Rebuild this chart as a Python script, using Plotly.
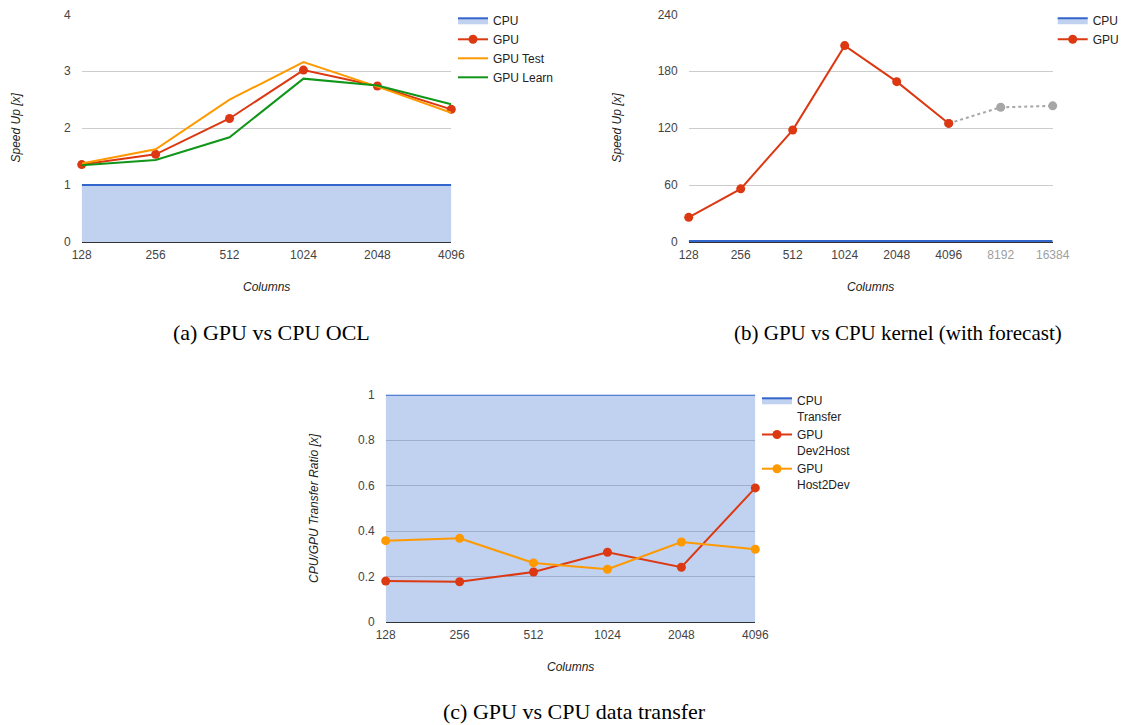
import plotly.graph_objects as go

W, H = 1130, 725

# ---------------- data ----------------
cols_a = ["128", "256", "512", "1024", "2048", "4096"]
cpu_a = [1, 1, 1, 1, 1, 1]
gpu_a = [1.36, 1.54, 2.17, 3.02, 2.74, 2.33]
gpu_test_a = [1.38, 1.63, 2.50, 3.16, 2.73, 2.27]
gpu_learn_a = [1.35, 1.44, 1.84, 2.87, 2.75, 2.42]

cols_b = ["128", "256", "512", "1024", "2048", "4096", "8192", "16384"]
cpu_b = [1, 1, 1, 1, 1, 1, 1, 1]
gpu_b = [26, 56, 118, 207, 169, 125]
forecast_cols_b = ["4096", "8192", "16384"]
forecast_b = [125, 142, 143.5]

cols_c = ["128", "256", "512", "1024", "2048", "4096"]
cpu_transfer_c = [1, 1, 1, 1, 1, 1]
dev2host_c = [0.180, 0.177, 0.220, 0.307, 0.241, 0.590]
host2dev_c = [0.358, 0.368, 0.260, 0.232, 0.352, 0.320]

# ---------------- style ----------------
BLUE = "#3366cc"
FILL = "rgba(51,102,204,0.30)"
RED = "#dc3912"
ORANGE = "#ff9900"
GREEN = "#109618"
GREY = "#a6a6a6"
FONT = "Arial, Liberation Sans, sans-serif"
MS = 9


def px_x(p):
    return p / W


def px_y(p):
    return 1 - p / H


fig = go.Figure()

# ---- panel (a)
fig.add_trace(go.Scatter(x=cols_a, y=cpu_a, name="CPU", mode="lines", fill="tozeroy",
                         fillcolor=FILL, line=dict(color=BLUE, width=2),
                         xaxis="x", yaxis="y", legend="legend", cliponaxis=False))
fig.add_trace(go.Scatter(x=cols_a, y=gpu_a, name="GPU", mode="lines+markers",
                         line=dict(color=RED, width=2), marker=dict(size=MS, color=RED),
                         xaxis="x", yaxis="y", legend="legend", cliponaxis=False))
fig.add_trace(go.Scatter(x=cols_a, y=gpu_test_a, name="GPU Test", mode="lines",
                         line=dict(color=ORANGE, width=2),
                         xaxis="x", yaxis="y", legend="legend", cliponaxis=False))
fig.add_trace(go.Scatter(x=cols_a, y=gpu_learn_a, name="GPU Learn", mode="lines",
                         line=dict(color=GREEN, width=2),
                         xaxis="x", yaxis="y", legend="legend", cliponaxis=False))

# ---- panel (b)
fig.add_trace(go.Scatter(x=cols_b, y=cpu_b, name="CPU", mode="lines", fill="tozeroy",
                         fillcolor=FILL, line=dict(color=BLUE, width=2),
                         xaxis="x2", yaxis="y2", legend="legend2", cliponaxis=False))
fig.add_trace(go.Scatter(x=forecast_cols_b, y=forecast_b, name="forecast", mode="lines+markers",
                         line=dict(color=GREY, width=2, dash="dot"),
                         marker=dict(size=MS, color=GREY),
                         showlegend=False,
                         xaxis="x2", yaxis="y2", legend="legend2", cliponaxis=False))
fig.add_trace(go.Scatter(x=cols_b[:6], y=gpu_b, name="GPU", mode="lines+markers",
                         line=dict(color=RED, width=2), marker=dict(size=MS, color=RED),
                         xaxis="x2", yaxis="y2", legend="legend2", cliponaxis=False))

# ---- panel (c)
fig.add_trace(go.Scatter(x=cols_c, y=cpu_transfer_c, name="CPU<br>Transfer", mode="lines",
                         fill="tozeroy", fillcolor=FILL, line=dict(color=BLUE, width=2),
                         xaxis="x3", yaxis="y3", legend="legend3", cliponaxis=False))
fig.add_trace(go.Scatter(x=cols_c, y=dev2host_c, name="GPU<br>Dev2Host", mode="lines+markers",
                         line=dict(color=RED, width=2), marker=dict(size=MS, color=RED),
                         xaxis="x3", yaxis="y3", legend="legend3", cliponaxis=False))
fig.add_trace(go.Scatter(x=cols_c, y=host2dev_c, name="GPU<br>Host2Dev", mode="lines+markers",
                         line=dict(color=ORANGE, width=2), marker=dict(size=MS, color=ORANGE),
                         xaxis="x3", yaxis="y3", legend="legend3", cliponaxis=False))

tickfont = dict(family=FONT, size=12, color="#444444")


def xaxis(domain, anchor, cats, ticktext=None):
    d = dict(domain=domain, anchor=anchor, type="category",
             categoryorder="array", categoryarray=cats,
             range=[0, len(cats) - 1], showgrid=False, zeroline=False,
             showline=False, ticks="", tickfont=tickfont, ticklabelstandoff=4,
             tickangle=0, automargin=False, fixedrange=True)
    if ticktext is not None:
        d.update(tickmode="array", tickvals=cats, ticktext=ticktext)
    return d


def yaxis(domain, anchor, rng, dtick):
    return dict(domain=domain, anchor=anchor, range=rng, dtick=dtick,
                showgrid=True, gridcolor="#cccccc", gridwidth=1,
                zeroline=True, zerolinecolor="#333333", zerolinewidth=1,
                showline=False, ticks="", tickfont=tickfont, ticklabelstandoff=10,
                automargin=False, fixedrange=True)


dom_a_x = [px_x(81.7), px_x(451.3)]
dom_b_x = [px_x(688.7), px_x(1052.7)]
dom_c_x = [px_x(385.7), px_x(755.3)]
dom_ab_y = [px_y(242), px_y(14.3)]
dom_c_y = [px_y(622), px_y(394.7)]

ticktext_b = cols_b[:6] + [f'<span style="color:#9e9e9e">{c}</span>' for c in cols_b[6:]]

legend_common = dict(font=dict(family=FONT, size=12, color="#222222"),
                     bgcolor="rgba(0,0,0,0)", borderwidth=0,
                     yanchor="top", valign="top",
                     tracegroupgap=0, itemclick=False, itemdoubleclick=False)

fig.update_layout(
    template="none",
    width=W, height=H, autosize=False,
    margin=dict(l=0, r=0, t=0, b=0, pad=0),
    paper_bgcolor="white", plot_bgcolor="white",
    font=dict(family=FONT, size=12, color="#222222"),
    xaxis=xaxis(dom_a_x, "y", cols_a),
    yaxis=yaxis(dom_ab_y, "x", [0, 4], 1),
    xaxis2=xaxis(dom_b_x, "y2", cols_b, ticktext_b),
    yaxis2=yaxis(dom_ab_y, "x2", [0, 240], 60),
    xaxis3=xaxis(dom_c_x, "y3", cols_c),
    yaxis3=yaxis(dom_c_y, "x3", [0, 1], 0.2),
    legend=dict(x=px_x(453), y=px_y(6), xanchor="left", **legend_common),
    legend2=dict(x=px_x(1124.7), y=px_y(6), xanchor="right", **legend_common),
    legend3=dict(x=px_x(757), y=px_y(386), xanchor="left", **legend_common),
    showlegend=True,
    hovermode=False,
)

annots = []
# axis titles
for x, y, txt in [(266.5, 287, "Columns"), (870.7, 287, "Columns"), (570.5, 667, "Columns")]:
    annots.append(dict(x=px_x(x), y=px_y(y), xref="paper", yref="paper",
                       xanchor="center", yanchor="middle",
                       text=f"<i>{txt}</i>", showarrow=False,
                       font=dict(family=FONT, size=12, color="#222222")))
for x, y, txt in [(15, 127.5, "Speed Up [x]"), (616, 127.5, "Speed Up [x]"),
                  (314, 508, "CPU/GPU Transfer Ratio [x]")]:
    annots.append(dict(x=px_x(x), y=px_y(y), xref="paper", yref="paper",
                       xanchor="center", yanchor="middle",
                       text=f"<i>{txt}</i>", showarrow=False, textangle=-90,
                       font=dict(family=FONT, size=12, color="#222222")))
# captions
for x, y, txt, sz in [(271, 333, "(a) GPU vs CPU OCL", 22),
                      (898, 333, "(b) GPU vs CPU kernel (with forecast)", 21),
                      (574, 711, "(c) GPU vs CPU data transfer", 22)]:
    annots.append(dict(x=px_x(x), y=px_y(y), xref="paper", yref="paper",
                       xanchor="center", yanchor="middle",
                       text=txt, showarrow=False,
                       font=dict(family="Liberation Serif, Times New Roman, serif",
                                 size=sz, color="#000000")))
fig.update_layout(annotations=annots)

fig.write_html("out.html", config={"displayModeBar": False},
               post_script="document.body.style.margin='0';")
